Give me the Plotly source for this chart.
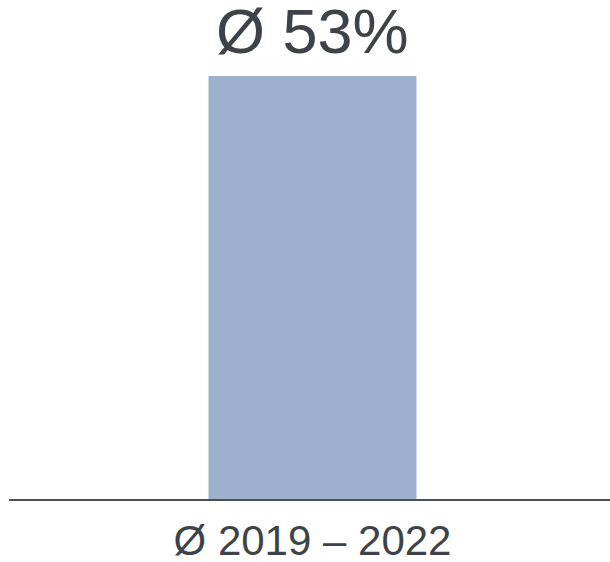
import plotly.graph_objects as go

# Average share over the period
categories = ["Ø 2019 – 2022"]
values = [53]

bar_color = "#9db0cd"
text_color = "#3d4349"
axis_color = "#4a4f55"
font_family = "Liberation Sans, Arial, sans-serif"

fig = go.Figure(
    go.Bar(
        x=categories,
        y=values,
        width=0.346,
        marker=dict(color=bar_color, line=dict(width=0)),
        hoverinfo="skip",
    )
)

# Value label above the bar
for cat, val in zip(categories, values):
    fig.add_annotation(
        x=cat,
        y=val,
        text=f"Ø {val}%",
        showarrow=False,
        xanchor="center",
        yanchor="bottom",
        yshift=8,
        font=dict(family=font_family, size=63, color=text_color),
    )

fig.update_layout(
    width=610,
    height=562,
    margin=dict(l=9, r=0, t=76, b=63, autoexpand=False),
    paper_bgcolor="white",
    plot_bgcolor="white",
    showlegend=False,
    xaxis=dict(
        showline=True,
        linecolor=axis_color,
        linewidth=2,
        ticks="",
        showgrid=False,
        automargin=False,
        tickfont=dict(family=font_family, size=42, color=text_color),
        ticklabelstandoff=4,
        range=[-0.505, 0.495],
    ),
    yaxis=dict(
        visible=False,
        range=[0, 53],
        showgrid=False,
        zeroline=False,
        automargin=False,
    ),
)

fig.write_html("out.html")
